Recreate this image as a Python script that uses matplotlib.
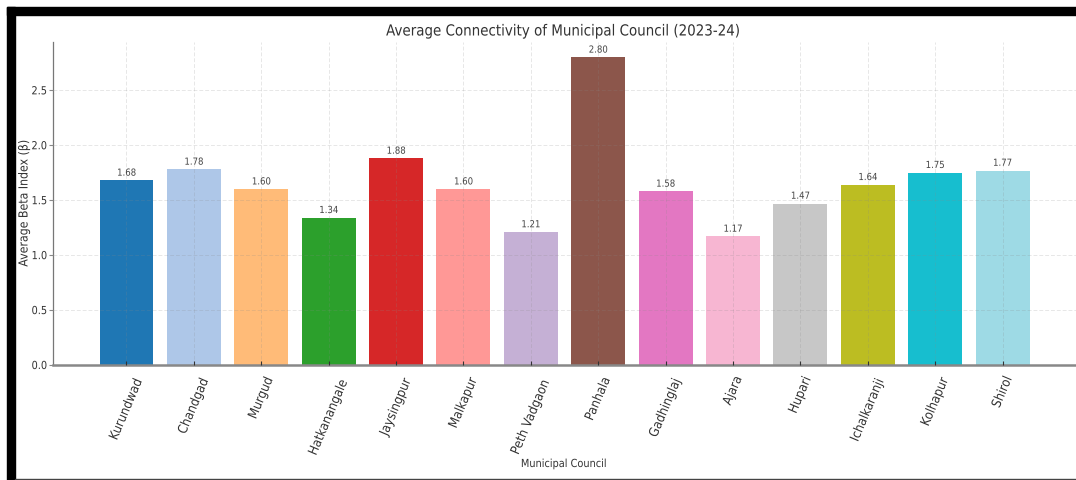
import numpy as np
import matplotlib
matplotlib.use('Agg')
import matplotlib.pyplot as plt
from matplotlib.patches import Rectangle
from matplotlib.patheffects import AbstractPathEffect
from matplotlib.text import Text
from matplotlib.transforms import Affine2D

# data
councils = ['Kurundwad', 'Chandgad', 'Murgud', 'Hatkanangale', 'Jaysingpur',
            'Malkapur', 'Peth Vadgaon', 'Panhala', 'Gadhinglaj', 'Ajara',
            'Hupari', 'Ichalkaranji', 'Kolhapur', 'Shirol']
beta_index = [1.68, 1.78, 1.60, 1.34, 1.88, 1.60, 1.21, 2.80, 1.58, 1.17,
              1.47, 1.64, 1.75, 1.77]


class Squeeze(AbstractPathEffect):
    '''Draws text a bit narrower, like a condensed face.'''
    def __init__(self, sx=0.88):
        super().__init__()
        self.sx = sx

    def draw_path(self, renderer, gc, tpath, affine, rgbFace=None):
        ext = tpath.get_extents()
        cx = (ext.x0 + ext.x1) / 2
        t = Affine2D().translate(-cx, 0).scale(self.sx, 1).translate(cx, 0) + affine
        renderer.draw_path(gc, tpath, t, rgbFace)


plt.rcParams['font.family'] = ['DejaVu Sans']

W, H = 1076, 481
fig = plt.figure(figsize=(W / 100, H / 100), dpi=100)
fig.patch.set_facecolor('white')

# axes placed by pixel; right edge sits on the crop line like in the picture
left, right, top, bottom = 53, 1076, 43, 366
ax = fig.add_axes([left / W, 1 - bottom / H, (right - left) / W, (bottom - top) / H])

colors = plt.cm.tab20(np.linspace(0, 1, len(councils)))
x = np.arange(len(councils))
bars = ax.bar(x, beta_index, width=0.8, color=colors)
ax.bar_label(bars, labels=[f'{v:.2f}' for v in beta_index], padding=2,
             fontsize=7, color='#444444')

ax.set_ylim(0, 2.94)
ax.set_yticks([0.0, 0.5, 1.0, 1.5, 2.0, 2.5])
ax.set_xticks(x)
ax.set_xticklabels(councils, rotation=67, fontsize=9.5, color='#333333')
ax.tick_params(axis='y', labelsize=8, labelcolor='#333333', color='#888888',
               length=3, direction='out', pad=0.5)
ax.tick_params(axis='x', color='#333333', length=3, direction='in', pad=5)

ax.grid(True, linestyle=(0, (4, 2)), color='#888888', alpha=0.2, linewidth=0.7)
ax.set_axisbelow(False)
for s in ['top', 'right']:
    ax.spines[s].set_visible(False)
ax.spines['left'].set_color('#777777')
ax.spines['left'].set_linewidth(0.9)
ax.spines['bottom'].set_color('#888888')
ax.spines['bottom'].set_linewidth(1.8)

fig.text(563 / W, 1 - 32 / H, 'Average Connectivity of Municipal Council (2023-24)',
         ha='center', va='center', fontsize=11, color='#333333')
fig.text(564 / W, 1 - 465 / H, 'Municipal Council', ha='center', va='center',
         fontsize=8, color='#333333')
fig.text(24 / W, 1 - 204 / H, 'Average Beta Index (β)', ha='center', va='center',
         rotation=90, fontsize=9, color='#333333')

# black screenshot frame
fig.add_artist(Rectangle((7 / W, 0), 8 / W, 1 - 8 / H, transform=fig.transFigure,
                         color='black', zorder=10))
fig.add_artist(Rectangle((7 / W, 1 - 16 / H), 1 - 7 / W, 8 / H, transform=fig.transFigure,
                         color='black', zorder=10))
fig.add_artist(Rectangle((15 / W, 0), 1, 1.5 / H, transform=fig.transFigure,
                         color='#444444', zorder=10))

for t in fig.findobj(Text):
    t.set_path_effects([Squeeze(0.88)])

fig.savefig('out.png', dpi=100)
